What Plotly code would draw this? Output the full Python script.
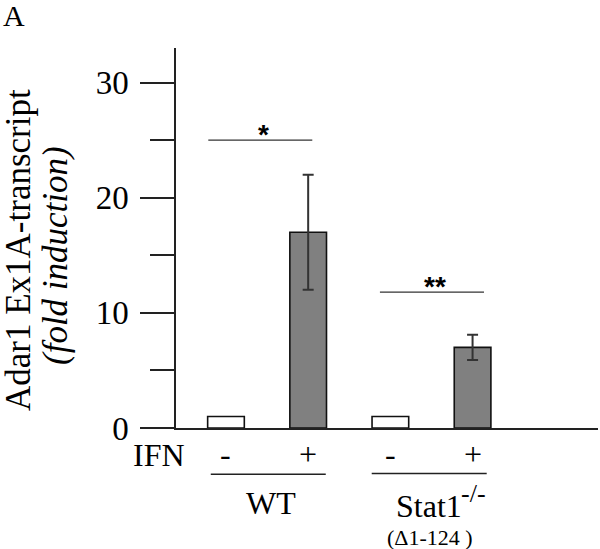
import plotly.graph_objects as go

# ---- data ----
categories = ["WT -", "WT +", "Stat1 -", "Stat1 +"]
ctrl_cats = ["WT -", "Stat1 -"]
ctrl_vals = [1.0, 1.0]
ifn_cats = ["WT +", "Stat1 +"]
ifn_vals = [17.0, 7.0]
ifn_err = [5.0, 1.1]
ifn_signs = ["-", "+", "-", "+"]
y_ticks = [0, 10, 20, 30]
sig_marks = ["*", "**"]
sig_levels = [25.0, 11.8]

SERIF = "Liberation Serif, Times New Roman, serif"
SANS = "Liberation Sans, Arial, sans-serif"

XMIN, XMAX = -0.608, 4.526
YMAX = 33
# plot area in page pixels
PL, PR, PT, PB = 176, 598, 48, 428


def px(idx):
    return (idx - XMIN) / (XMAX - XMIN)


def pgx(x):
    return (x - PL) / (PR - PL)


def pgy(y):
    return (PB - y) / (PB - PT)


fig = go.Figure()
fig.add_trace(go.Bar(
    x=ctrl_cats, y=ctrl_vals, width=0.446,
    marker=dict(color="white", line=dict(color="#111", width=1.6)),
    showlegend=False, hoverinfo="skip"))
fig.add_trace(go.Bar(
    x=ifn_cats, y=ifn_vals, width=0.446,
    marker=dict(color="#808080", line=dict(color="#111", width=1.6)),
    error_y=dict(type="data", array=ifn_err, visible=True,
                 color="#333", thickness=2, width=5.5),
    showlegend=False, hoverinfo="skip"))

shapes = []
annotations = []

# significance lines and stars
sig_spans = [(-0.215, 1.05), (1.873, 3.139)]
for (a, b), lvl, mark in zip(sig_spans, sig_levels, sig_marks):
    shapes.append(dict(type="line", xref="paper", yref="y",
                       x0=px(a), x1=px(b), y0=lvl, y1=lvl,
                       line=dict(color="#333", width=1.2)))
    annotations.append(dict(x=(a + b) / 2 + 0.04, y=lvl, xref="x", yref="y",
                            text="<b>" + mark + "</b>", showarrow=False,
                            xanchor="center", yanchor="bottom", yshift=-12,
                            font=dict(family=SANS, size=28, color="black")))

# IFN signs
for i, s in enumerate(ifn_signs):
    annotations.append(dict(x=i, y=pgy(454), xref="x", yref="paper", text=s,
                            showarrow=False, xanchor="center", yanchor="middle",
                            font=dict(family=SERIF, size=32, color="black")))

# group underlines
for a, b, yv in [(-0.185, 1.214, 474.3), (1.773, 3.172, 473.5)]:
    shapes.append(dict(type="line", xref="paper", yref="paper",
                       x0=px(a), x1=px(b), y0=pgy(yv), y1=pgy(yv),
                       line=dict(color="#222", width=1.4)))

annotations += [
    dict(x=0.55, y=pgy(503), xref="x", yref="paper", text="WT", showarrow=False,
         xanchor="center", yanchor="middle",
         font=dict(family=SERIF, size=32, color="black")),
    dict(x=pgx(394), y=pgy(506), xref="paper", yref="paper", text="Stat1",
         showarrow=False, xanchor="left", yanchor="middle",
         font=dict(family=SERIF, size=32, color="black")),
    dict(x=pgx(459), y=pgy(493), xref="paper", yref="paper", text="-/-",
         showarrow=False, xanchor="left", yanchor="middle",
         font=dict(family=SERIF, size=26, color="black")),
    dict(x=pgx(430), y=pgy(537), xref="paper", yref="paper",
         text="(\u03941-124 )", showarrow=False, xanchor="center",
         yanchor="middle", font=dict(family=SERIF, size=22, color="black")),
    dict(x=pgx(159), y=pgy(455), xref="paper", yref="paper", text="IFN",
         showarrow=False, xanchor="center", yanchor="middle",
         font=dict(family=SERIF, size=32, color="black")),
    dict(x=pgx(14), y=pgy(16), xref="paper", yref="paper",
         text="A", showarrow=False, xanchor="center", yanchor="middle",
         font=dict(family=SERIF, size=30, color="black")),
    dict(x=pgx(18), y=pgy(250), xref="paper", yref="paper",
         text="Adar1 Ex1A-transcript",
         showarrow=False, textangle=-90, xanchor="center", yanchor="middle",
         font=dict(family=SERIF, size=35, color="black")),
    dict(x=pgx(55), y=pgy(255), xref="paper", yref="paper",
         text="<i>(fold induction)</i>",
         showarrow=False, textangle=-90, xanchor="center", yanchor="middle",
         font=dict(family=SERIF, size=35, color="black")),
]

fig.update_layout(
    width=600, height=549,
    margin=dict(l=PL, r=600 - PR, t=PT, b=549 - PB),
    paper_bgcolor="white", plot_bgcolor="white",
    barmode="overlay",
    shapes=shapes, annotations=annotations,
    xaxis=dict(type="category", categoryorder="array", categoryarray=categories,
               range=[XMIN, XMAX], showticklabels=False, ticks="",
               showline=True, linecolor="#222", linewidth=1.5,
               showgrid=False, zeroline=False, fixedrange=True),
    yaxis=dict(range=[0, YMAX], tickvals=y_ticks, ticks="outside", ticklen=34,
               tickwidth=1.5, tickcolor="#222", showline=True, linecolor="#222",
               linewidth=1.5, showgrid=False, zeroline=False,
               tickfont=dict(family=SERIF, size=33, color="black"),
               ticklabelstandoff=5,
               minor=dict(dtick=5, tick0=0, ticks="outside", ticklen=24,
                          tickwidth=1.5, tickcolor="#222", showgrid=False)),
)

fig.write_html(
    "out.html",
    config={"displayModeBar": False},
    post_script="document.body.style.margin='0';document.body.style.padding='0';",
)
